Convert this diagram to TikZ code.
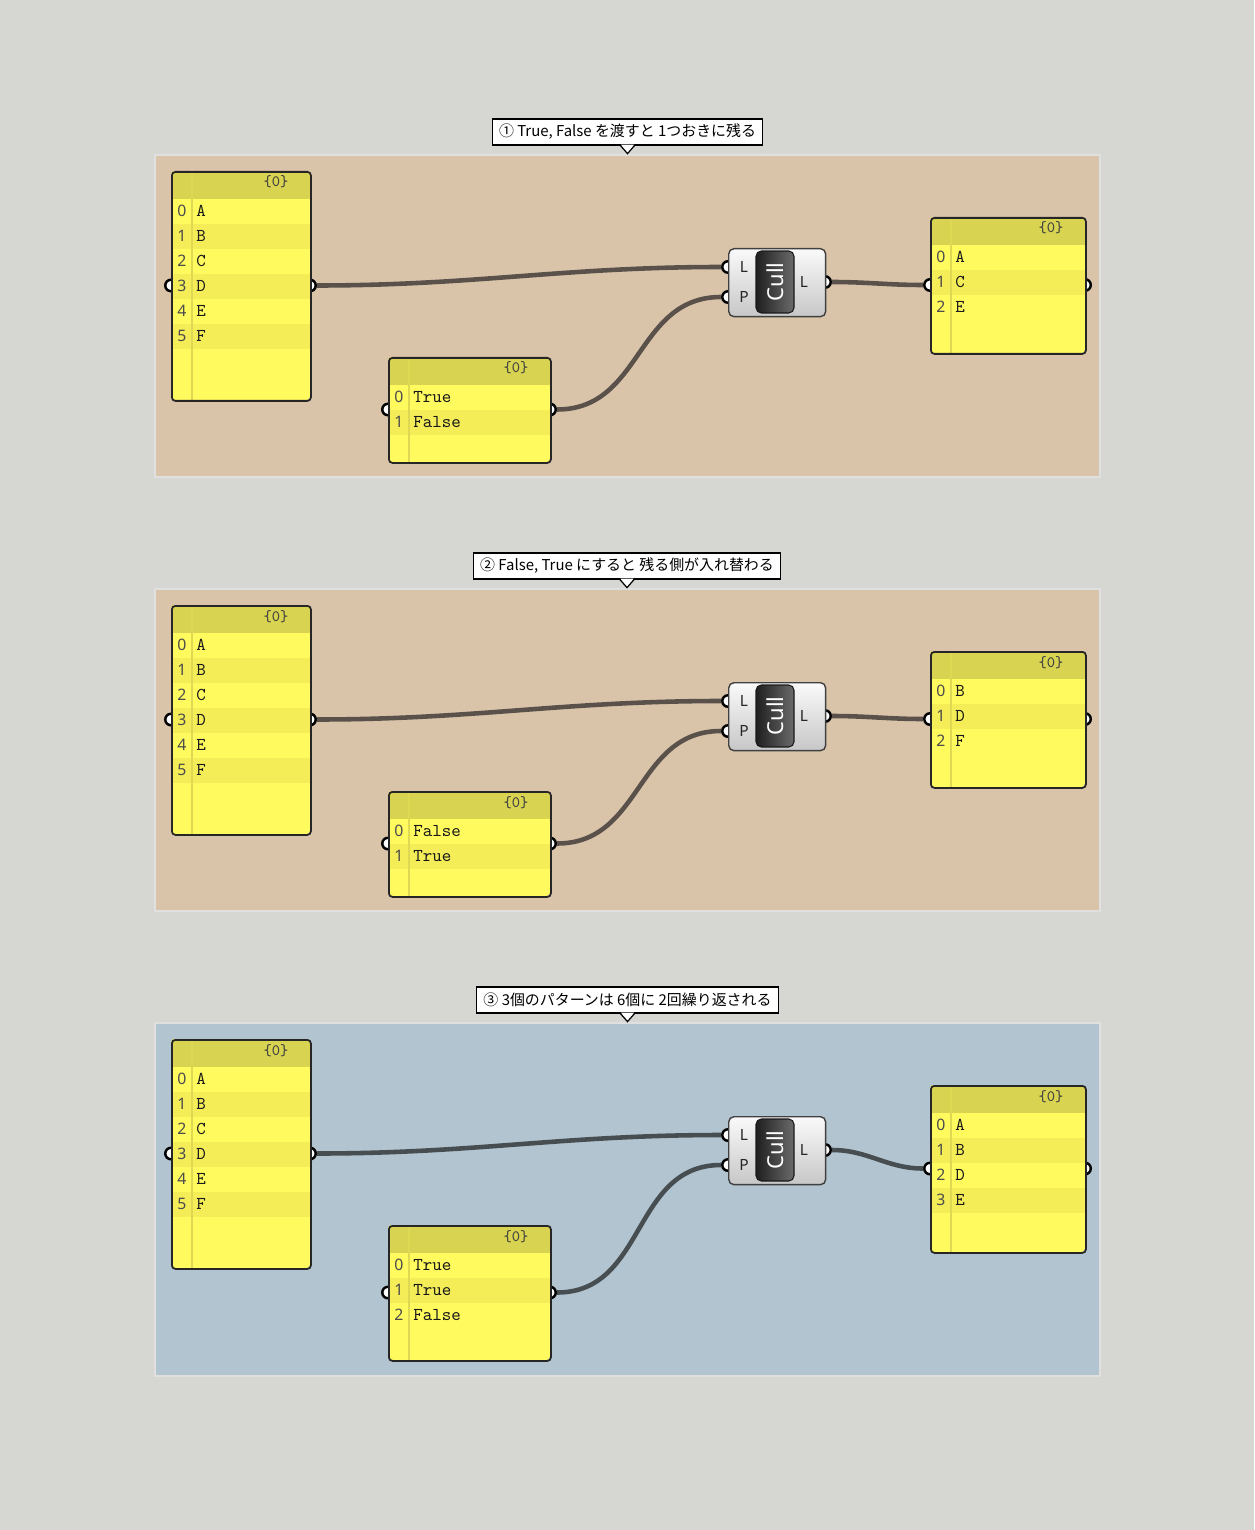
\documentclass[tikz,border=0pt]{standalone}
\usepackage{fontspec}
\newfontfamily\jpfont{Noto Sans CJK JP}
\newfontfamily\uifont{Noto Sans}
\usetikzlibrary{calc}
\definecolor{canvas}{RGB}{214,215,210}
\definecolor{grptan}{RGB}{217,196,170}
\definecolor{grpblue}{RGB}{178,196,207}
\definecolor{pnlyellow}{RGB}{255,250,94}
\definecolor{pnlodd}{RGB}{244,237,88}
\definecolor{pnlhead}{RGB}{216,211,80}
\definecolor{pnlline}{RGB}{222,216,82}
\definecolor{wirebrown}{RGB}{90,82,74}
\definecolor{wireslate}{RGB}{70,78,82}
\tikzset {
  % component input / output grips
  port/.style = {draw=black, fill=white, circle, line width=1.4pt, inner sep=0pt, minimum size=0.23cm},
  % panels
  panel/.style = {draw=black!85, line width=1pt, rounded corners=2pt, inner sep=0pt},
  idx/.style = {font=\uifont\fontsize{9}{10}\selectfont, text=black!70, inner sep=0pt, anchor=base},
  entry/.style = {font=\ttfamily\fontsize{10.3}{11}\selectfont, text=black!90, inner sep=0pt, anchor=base west},
  hdtext/.style = {font=\ttfamily\fontsize{9}{10}\selectfont, text=black!75, inner sep=0pt, anchor=base},
  % the Cull component
  cullbody/.style = {draw=black!75, line width=0.8pt, rounded corners=3pt, top color=black!2, bottom color=black!22,
    minimum width=1.94cm, minimum height=1.36cm, inner sep=0pt},
  cullicon/.style = {draw=black!90, line width=0.6pt, rounded corners=3pt, rotate=90, left color=black!88, right color=black!58,
    minimum width=1.24cm, minimum height=0.76cm, inner sep=0pt, text=white, font=\uifont\fontsize{12.5}{13}\selectfont},
  pinlbl/.style = {font=\uifont\fontsize{8.8}{10}\selectfont, text=black!85, inner sep=0pt},
  % wires
  wire/.style = {wirebrown, line width=2.6pt},
  % groups and their titles
  grpbox/.style = {draw=black!12, line width=0.6pt},
  titlebox/.style = {draw=black, fill=white, line width=0.7pt, font=\jpfont\fontsize{8.5}{10}\selectfont,
    minimum height=0.52cm, inner xsep=3.8pt, inner ysep=0pt},
}
% panel: name, left, top, width, height, entries
\newcommand{\ghpanel}[6]{
  \node[port] (#1in) at (#2,{#3+#5/2}) {};
  \node[port] (#1out) at ({#2+#4},{#3+#5/2}) {};
  \begin{scope}
    \clip[rounded corners=2pt] (#2,#3) rectangle ++(#4,#5);
    \fill[pnlyellow] (#2,#3) rectangle ++(#4,#5);
    \fill[pnlhead] (#2,#3) rectangle ++(#4,28);
    \foreach \val [count=\n from 0] in {#6} {
      \ifodd\n\relax \fill[pnlodd] (#2,{#3+28+25*\n}) rectangle ++(#4,25); \fi
      \node[idx] at ({#2+11},{#3+45.5+25*\n}) {\n};
      \node[entry] at ({#2+25},{#3+45.5+25*\n}) {\val};
    }
    \draw[pnlline, line width=0.8pt] ({#2+21},#3) -- ++(0,#5);
  \end{scope}
  \node[panel, minimum width=#4*0.02cm, minimum height=#5*0.02cm, anchor=north west] (#1) at (#2,#3) {};
  \node[hdtext] (#1head) at ({#2+#4-34},{#3+16}) {\{0\}};
}
% cull component: name, left, top
\newcommand{\ghcull}[3]{
  \node[port] (#1L) at (#2,{#3+19}) {};
  \node[port] (#1P) at (#2,{#3+49}) {};
  \node[port] (#1out) at ({#2+97},{#3+34}) {};
  \node[cullbody, anchor=north west] (#1) at (#2,#3) {};
  \node[cullicon] (#1icon) at ({#2+47},{#3+34}) {Cull};
  \node[pinlbl] (#1Ltext) at ({#2+16},{#3+19}) {L};
  \node[pinlbl] (#1Ptext) at ({#2+16},{#3+49}) {P};
  \node[pinlbl] (#1outtext) at ({#2+76},{#3+34}) {L};
}
% little pointer under a group title
\newcommand{\tip}[1]{
  \fill[white] ($(#1.south)+(-6.5,-0.9)$) -- ($(#1.south)+(0,8.5)$) -- ($(#1.south)+(6.5,-0.9)$) -- cycle;
  \draw[line width=0.7pt] ($(#1.south)+(-7,0)$) -- ($(#1.south)+(0,8)$) -- ($(#1.south)+(7,0)$);
}

\begin{document}
\begin{tikzpicture}[x=0.02cm, y=-0.02cm]
  \fill[canvas] (0,0) rectangle (1254,1530);
  \useasboundingbox (0,0) rectangle (1254,1530);

  % 1: True, False
  \draw[grpbox, fill=grptan] (155,155) rectangle (1100,477);
  \node[titlebox] (t1) at (627.5,132) {① True, False を渡すと 1つおきに残る};
  \tip{t1}
  \ghpanel{a1}{171}{171}{139}{229}{A,B,C,D,E,F}
  \ghpanel{b1}{388}{357}{162}{105}{True,False}
  \ghcull{c1}{728}{248}
  \ghpanel{r1}{930}{217}{155}{136}{A,C,E}
  \draw[wire] (a1out) to[out=0, in=180] (c1L);
  \draw[wire] (b1out) to[out=0, in=180, looseness=1.1] (c1P);
  \draw[wire] (c1out) to[out=0, in=180] (r1in);

  % 2: False, True
  \draw[grpbox, fill=grptan] (155,589) rectangle (1100,911);
  \node[titlebox] (t2) at (627,566) {② False, True にすると 残る側が入れ替わる};
  \tip{t2}
  \ghpanel{a2}{171}{605}{139}{229}{A,B,C,D,E,F}
  \ghpanel{b2}{388}{791}{162}{105}{False,True}
  \ghcull{c2}{728}{682}
  \ghpanel{r2}{930}{651}{155}{136}{B,D,F}
  \draw[wire] (a2out) to[out=0, in=180] (c2L);
  \draw[wire] (b2out) to[out=0, in=180, looseness=1.1] (c2P);
  \draw[wire] (c2out) to[out=0, in=180] (r2in);

  % 3: True, True, False
  \draw[grpbox, fill=grpblue] (155,1023) rectangle (1100,1376);
  \node[titlebox] (t3) at (627.5,1000) {③ 3個のパターンは 6個に 2回繰り返される};
  \tip{t3}
  \ghpanel{a3}{171}{1039}{139}{229}{A,B,C,D,E,F}
  \ghpanel{b3}{388}{1225}{162}{135}{True,True,False}
  \ghcull{c3}{728}{1116}
  \ghpanel{r3}{930}{1085}{155}{167}{A,B,D,E}
  \draw[wire, wireslate] (a3out) to[out=0, in=180] (c3L);
  \draw[wire, wireslate] (b3out) to[out=0, in=180, looseness=1.1] (c3P);
  \draw[wire, wireslate] (c3out) to[out=0, in=180] (r3in);
\end{tikzpicture}
\end{document}
